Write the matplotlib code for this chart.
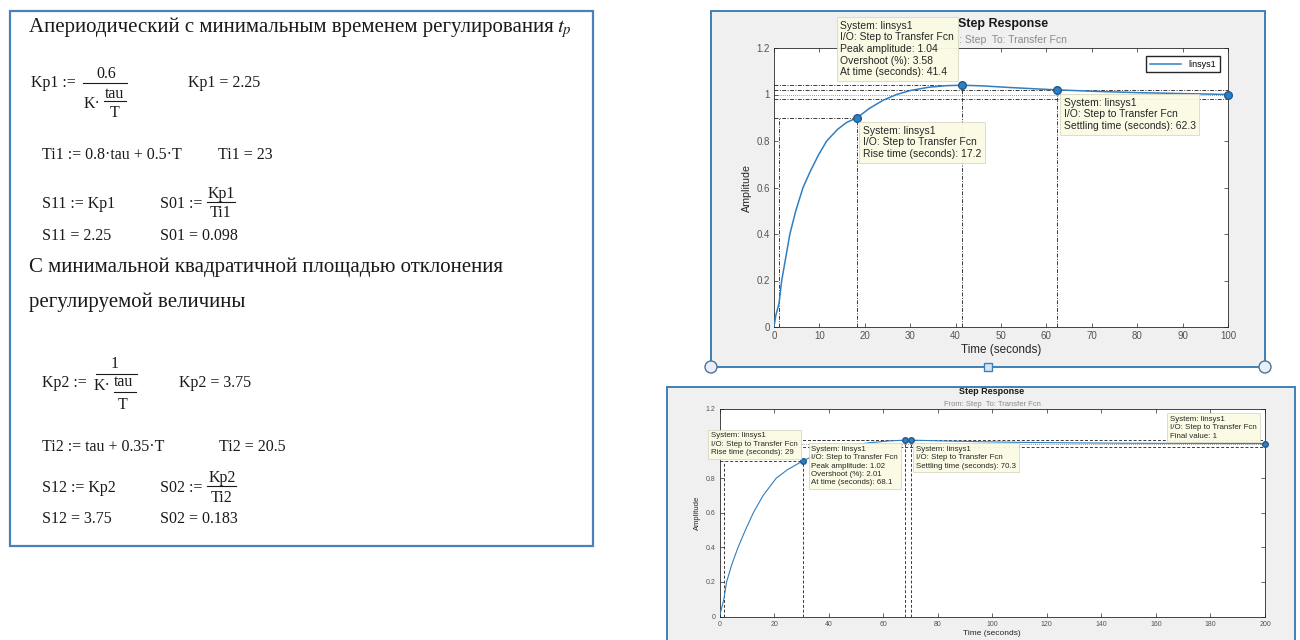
import matplotlib.pyplot as plt
from matplotlib.patches import Rectangle, Circle

plt.rcParams['mathtext.fontset'] = 'stix'

W, H = 1300, 640
SANS = 'Liberation Sans'
SERIF = 'Liberation Serif'
BLUE = '#2f7fc1'

# step response 1: aperiodic tuning, minimal regulation time
t1 = [0, 0.4, 1.1, 1.7, 2.6, 3.5, 4.8, 6.4, 8.0, 9.8, 11.6, 14.0, 16.0, 18.3,
      21.0, 24.0, 27.0, 30.0, 34.0, 38.0, 41.4, 46.0, 52.0, 58.0, 62.3, 70.0,
      80.0, 90.0, 100.0]
y1 = [0, 0.05, 0.1, 0.2, 0.3, 0.4, 0.5, 0.6, 0.67, 0.74, 0.8, 0.85, 0.88, 0.9,
      0.94, 0.975, 1.0, 1.017, 1.031, 1.038, 1.04, 1.037, 1.03, 1.024, 1.02,
      1.014, 1.008, 1.004, 1.0]
rise_start1, rise_time1 = 1.1, 17.2
peak_amp1, overshoot1, peak_time1 = 1.04, 3.58, 41.4
settle_time1, settle_amp1 = 62.3, 1.02
final_time1, final_value1 = 100, 1

# step response 2: minimal quadratic deviation area
t2 = [0, 0.8, 1.6, 2.6, 4.5, 6.8, 9.5, 12.4, 16.0, 20.8, 25.0, 30.6, 36.0,
      42.0, 48.0, 55.0, 62.0, 68.1, 70.3, 80.0, 95.0, 110.0, 130.0, 150.0,
      175.0, 200.0]
y2 = [0, 0.05, 0.1, 0.2, 0.3, 0.4, 0.5, 0.6, 0.7, 0.8, 0.85, 0.9, 0.94, 0.97,
      0.99, 1.005, 1.015, 1.02, 1.02, 1.016, 1.011, 1.007, 1.004, 1.002, 1.001,
      1.0]
rise_start2, rise_time2 = 1.6, 29
peak_amp2, overshoot2, peak_time2 = 1.02, 2.01, 68.1
settle_time2, settle_amp2 = 70.3, 1.02
final_time2, final_value2 = 200, 1

y_ticks = [0, 0.2, 0.4, 0.6, 0.8, 1.0, 1.2]
y_tick_labels = ['0', '0.2', '0.4', '0.6', '0.8', '1', '1.2']

# values shown in the Mathcad sheet
Kp1, Ti1, S11, S01 = 2.25, 23, 2.25, 0.098
Kp2, Ti2, S12, S02 = 3.75, 20.5, 3.75, 0.183


def px_rect(x0, y0, x1, y1):
    return [x0 / W, 1 - y1 / H, (x1 - x0) / W, (y1 - y0) / H]


def datatip(ax, x, y, lines, dx, dy, ha, va, fs, spacing):
    ax.annotate('\n'.join(lines), xy=(x, y), xytext=(dx, dy),
                textcoords='offset pixels', ha=ha, va=va, fontsize=fs,
                multialignment='left', family=SANS, color='#262626',
                linespacing=spacing, annotation_clip=False, zorder=8,
                bbox=dict(boxstyle='square,pad=0.35', fc='#fbfbe4',
                          ec='#d6d6c4', lw=0.6, alpha=0.95))


def step_plot(ax, t, y, xmax, xstep, rise_start, rise_time, peak_amp,
              peak_time, settle_time, settle_amp, final_time, final_value,
              fs, lw, ms, ls):
    rise_end = rise_start + rise_time
    ref = dict(color='#3a3a3a', lw=0.7, ls=ls, zorder=2)
    # characteristic guide lines
    ax.plot([0, rise_end], [0.9, 0.9], **ref)
    ax.plot([rise_start, rise_start], [0, 0.9], **ref)
    ax.plot([rise_end, rise_end], [0, 0.9], **ref)
    ax.plot([0, peak_time], [peak_amp, peak_amp], **ref)
    ax.plot([peak_time, peak_time], [0, peak_amp], **ref)
    ax.plot([settle_time, settle_time], [0, settle_amp], **ref)
    ax.plot([0, xmax], [final_value * 1.02] * 2, **ref)
    ax.plot([0, xmax], [final_value * 0.98] * 2, **ref)
    ax.plot([0, xmax], [final_value] * 2, color='#3a3a3a', lw=0.5,
            ls=(0, (1, 2)), zorder=2)

    ax.plot(t, y, color=BLUE, lw=lw, zorder=4, label='linsys1')
    ax.plot([rise_end, peak_time, settle_time, final_time],
            [0.9, peak_amp, settle_amp, final_value], 'o', color=BLUE,
            mec='#1d5a8f', ms=ms, zorder=5, clip_on=False)

    ax.set_xlim(0, xmax)
    ax.set_ylim(0, 1.2)
    ax.set_xticks(range(0, xmax + 1, xstep))
    ax.set_yticks(y_ticks)
    ax.set_yticklabels(y_tick_labels)
    ax.tick_params(direction='in', top=True, right=True, length=3, width=0.5,
                   labelsize=fs, colors='#262626', labelcolor='#555555', pad=3)
    for s in ax.spines.values():
        s.set_color('#262626')
        s.set_linewidth(0.6)
    for lab in ax.get_xticklabels() + ax.get_yticklabels():
        lab.set_family(SANS)
    ax.set_xlabel('Time (seconds)', family=SANS, fontsize=fs * 1.2,
                  color='#262626', labelpad=2)
    ax.set_ylabel('Amplitude', family=SANS, fontsize=fs * 1.1,
                  color='#262626', labelpad=3)


fig = plt.figure(figsize=(13, 6.4), dpi=100)
fig.patch.set_facecolor('white')

# pixel-space canvas for panels, frames and the Mathcad text
bg = fig.add_axes([0, 0, 1, 1], zorder=0)
bg.set_xlim(0, W)
bg.set_ylim(H, 0)
bg.axis('off')

# ---- Mathcad sheet ----
bg.add_patch(Rectangle((10, 11), 583, 535, fc='white', ec='#4b80b8', lw=1.6))

FS = 11.5


def mc(x, y, s, ha='left', fs=FS):
    return bg.text(x, y, s, ha=ha, va='center', family=SERIF, fontsize=fs,
                   color='#1a1a1a')


def bar(x0, x1, y):
    bg.plot([x0, x1], [y, y], color='#1a1a1a', lw=0.8)


head = mc(29, 27, 'Апериодический с минимальным временем регулирования',
          fs=15)
fig.canvas.draw()
head_end = head.get_window_extent().x1
bg.text(head_end + 3, 29, r'$t_p$', ha='left', va='center', fontsize=15,
        color='#1a1a1a')

mc(31, 83, 'Kp1 :=')
mc(106, 74, '0.6', ha='center')
bar(83, 127, 83)
mc(84, 104, 'K·')
mc(115, 94, 'tau', ha='center')
bar(104, 126, 101)
mc(115, 113, 'T', ha='center')
mc(188, 83, f'Kp1 = {Kp1:g}')

mc(42, 155, 'Ti1 := 0.8·tau + 0.5·T')
mc(218, 155, f'Ti1 = {Ti1:g}')

mc(42, 204, 'S11 := Kp1')
mc(160, 204, 'S01 :=')
mc(221, 194, 'Kp1', ha='center')
bar(207, 235, 202)
mc(221, 213, 'Ti1', ha='center')
mc(42, 236, f'S11 = {S11:g}')
mc(160, 236, f'S01 = {S01:g}')

mc(29, 267, 'С минимальной квадратичной площадью отклонения', fs=15)
mc(29, 302, 'регулируемой величины', fs=15)

mc(42, 383, 'Kp2 :=')
mc(115, 364, '1', ha='center')
bar(96, 137, 374)
mc(94, 386, 'K·')
mc(124, 382, 'tau', ha='center')
bar(114, 136, 392)
mc(123, 405, 'T', ha='center')
mc(179, 383, f'Kp2 = {Kp2:g}')

mc(42, 447, 'Ti2 := tau + 0.35·T')
mc(219, 447, f'Ti2 = {Ti2:g}')

mc(42, 488, 'S12 := Kp2')
mc(160, 488, 'S02 :=')
mc(222, 478, 'Kp2', ha='center')
bar(207, 236, 486)
mc(222, 498, 'Ti2', ha='center')
mc(42, 519, f'S12 = {S12:g}')
mc(160, 519, f'S02 = {S02:g}')

# ---- MATLAB figure frames ----
frame = '#3f7fb5'
bg.add_patch(Rectangle((711, 11), 554, 356, fc='#f0f0f0', ec=frame, lw=1.4))
bg.add_patch(Rectangle((667, 387), 628, 270, fc='#f0f0f0', ec=frame, lw=1.4))
for cx in (711, 1265):
    bg.add_patch(Circle((cx, 367), 6, fc='#e9eff5', ec='#4d7396', lw=1.0))
bg.add_patch(Rectangle((984, 363), 8, 8, fc='#d2e6f5', ec=frame, lw=1.0))

bg.text(1003, 24, 'Step Response', ha='center', va='center', family=SANS,
        fontsize=9, weight='bold', color='#1a1a1a')
bg.text(1001, 40, 'From: Step  To: Transfer Fcn', ha='center', va='center',
        family=SANS, fontsize=7.5, color='#8a8a8a')
bg.text(992, 392, 'Step Response', ha='center', va='center', family=SANS,
        fontsize=6.5, weight='bold', color='#1a1a1a')
bg.text(992, 405, 'From: Step  To: Transfer Fcn', ha='center', va='center',
        family=SANS, fontsize=5.5, color='#8a8a8a')

# ---- upper step response ----
ax1 = fig.add_axes(px_rect(774, 48, 1228, 327), zorder=2)
step_plot(ax1, t1, y1, 100, 10, rise_start1, rise_time1, peak_amp1,
          peak_time1, settle_time1, settle_amp1, final_time1, final_value1,
          fs=7, lw=1.1, ms=5.5, ls=(0, (4, 1.5, 1, 1.5)))
ax1.legend(loc='upper right', prop={'family': SANS, 'size': 6.5},
           fancybox=False, edgecolor='#262626', handlelength=3.5,
           borderaxespad=0.9, framealpha=1)
datatip(ax1, peak_time1, peak_amp1,
        ['System: linsys1', 'I/O: Step to Transfer Fcn',
         f'Peak amplitude: {peak_amp1:g}', f'Overshoot (%): {overshoot1:g}',
         f'At time (seconds): {peak_time1:g}'], -8, 8, 'right', 'bottom',
        7.5, 1.2)
datatip(ax1, rise_start1 + rise_time1, 0.9,
        ['System: linsys1', 'I/O: Step to Transfer Fcn',
         f'Rise time (seconds): {rise_time1:g}'], 6, -8, 'left', 'top',
        7.5, 1.2)
datatip(ax1, settle_time1, settle_amp1,
        ['System: linsys1', 'I/O: Step to Transfer Fcn',
         f'Settling time (seconds): {settle_time1:g}'], 7, -8, 'left', 'top',
        7.5, 1.2)

# ---- lower step response ----
ax2 = fig.add_axes(px_rect(719.5, 409, 1265, 616.5), zorder=2)
step_plot(ax2, t2, y2, 200, 20, rise_start2, rise_time2, peak_amp2,
          peak_time2, settle_time2, settle_amp2, final_time2, final_value2,
          fs=5, lw=0.8, ms=4, ls=(0, (3, 2)))
datatip(ax2, rise_start2 + rise_time2, 0.9,
        ['System: linsys1', 'I/O: Step to Transfer Fcn',
         f'Rise time (seconds): {rise_time2:g}'], -5, 5, 'right', 'bottom',
        5.7, 1.25)
datatip(ax2, peak_time2, peak_amp2,
        ['System: linsys1', 'I/O: Step to Transfer Fcn',
         f'Peak amplitude: {peak_amp2:g}', f'Overshoot (%): {overshoot2:g}',
         f'At time (seconds): {peak_time2:g}'], -7, -6, 'right', 'top',
        5.7, 1.25)
datatip(ax2, settle_time2, settle_amp2,
        ['System: linsys1', 'I/O: Step to Transfer Fcn',
         f'Settling time (seconds): {settle_time2:g}'], 5, -6, 'left', 'top',
        5.7, 1.25)
datatip(ax2, final_time2, final_value2,
        ['System: linsys1', 'I/O: Step to Transfer Fcn',
         f'Final value: {final_value2:g}'], -8, 4, 'right', 'bottom',
        5.7, 1.25)

fig.savefig('out.png', dpi=100)
